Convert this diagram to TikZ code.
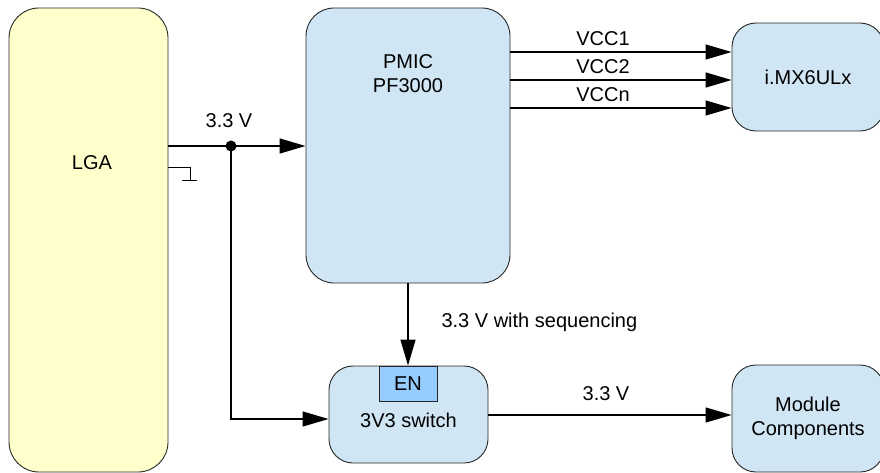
\documentclass[tikz,border=0pt]{standalone}
\usepackage{fontspec}
\setmainfont{Liberation Sans}
\usetikzlibrary{arrows.meta}
\definecolor{boxblue}{RGB}{208,230,245}
\definecolor{enblue}{RGB}{150,204,255}
\definecolor{lgayellow}{RGB}{255,255,204}

\begin{document}
\begin{tikzpicture}[x=1pt,y=-1pt,font=\fontsize{20}{24}\selectfont,
  box/.style={draw=black!85,fill=boxblue,rounded corners=28pt,inner sep=0pt,line width=0.9pt},
  wire/.style={line width=1.3pt,-{Triangle[length=26pt,width=15pt]}},
  gnd/.style={line width=1pt}]
\useasboundingbox (0,0) rectangle (880,473);
\node[box,fill=lgayellow,minimum width=159pt,minimum height=464pt,rounded corners=30pt] (lga) at (88.5,240) {};
\node at (92,163) {LGA};
\node[box,minimum width=204pt,minimum height=275pt] (pmic) at (408,145.5) {};
\node[align=center] at (408,74) {PMIC\\PF3000};
\node[box,minimum width=152pt,minimum height=108pt,rounded corners=24pt] (imx) at (808,77) {i.MX6ULx};
\node[box,minimum width=159pt,minimum height=97pt,rounded corners=24pt] (sw) at (408.5,414.5) {};
\node at (408.5,420) {3V3 switch};
\node[draw=black!85,fill=enblue,minimum width=58pt,minimum height=35pt,inner sep=0pt,line width=0.9pt] (en) at (408,383.5) {EN};
\node[box,align=center,minimum width=152pt,minimum height=107pt,rounded corners=24pt] (mod) at (808,418.5) {Module\\Components};

% 3.3 V supply from LGA
\coordinate (dot) at (231,146);
\draw[line width=1.3pt] (lga.east |- dot) -- (dot);
\draw[wire] (dot) -- (pmic.west |- dot);
\fill (dot) circle (5.5pt);
\node at (229,121) {3.3 V};
\draw[wire] (dot) |- (sw.west |- 0,419);

% ground
\coordinate (g1) at (190,168);
\coordinate (g2) at (190,181);
\draw[gnd] (lga.east |- g1) -- (g1) -- (g2);
\draw[gnd] (182,181) -- (197,181);

% PMIC outputs
\foreach \yy/\lbl in {52/VCC1,80/VCC2,108/VCCn}{
  \draw[wire] (pmic.east |- 0,\yy) -- (imx.west |- 0,\yy);
  \node at (603,\yy-13) {\lbl};
}

% enable with sequencing
\draw[wire] (pmic.south) -- (en.north);
\node[anchor=west] at (438,322) {3.3 V with sequencing};

% switched 3.3 V
\draw[wire] (sw.east |- 0,415) -- (mod.west |- 0,415);
\node at (606,394) {3.3 V};
\end{tikzpicture}
\end{document}
